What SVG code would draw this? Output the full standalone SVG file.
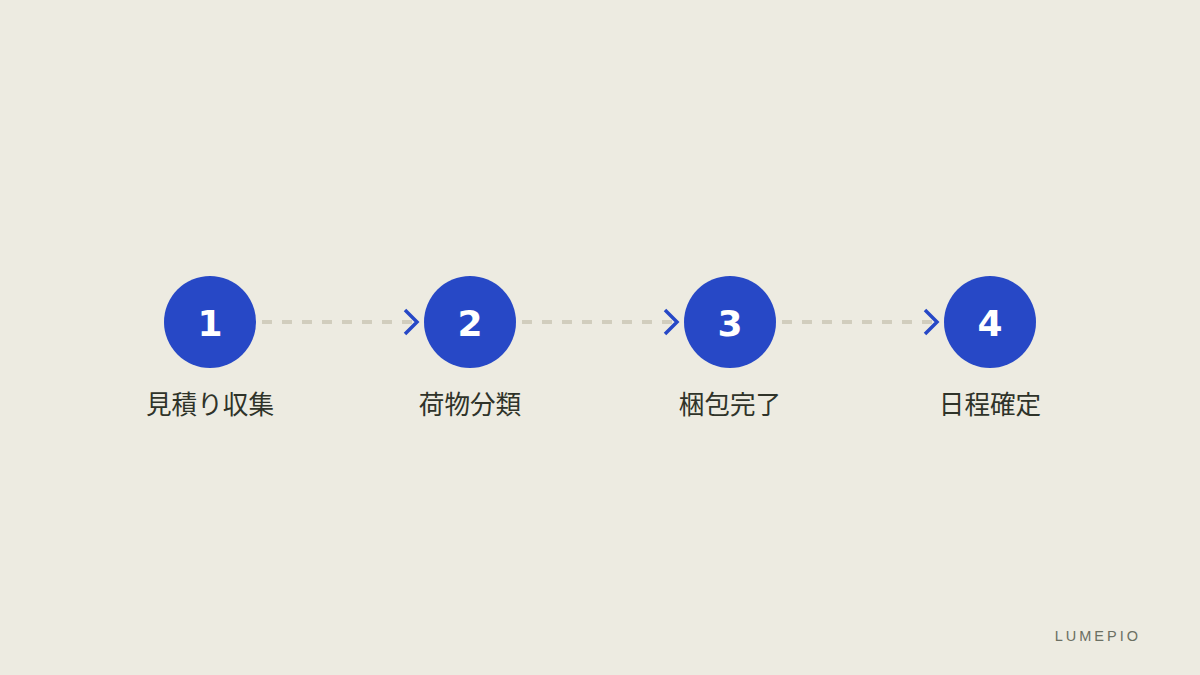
<svg xmlns="http://www.w3.org/2000/svg" width="1200" height="675" viewBox="0 0 1200 675">
<style>
.node circle{fill:#2748c6}
.num{font-family:"DejaVu Sans","Liberation Sans",sans-serif;font-weight:bold;font-size:36px;fill:#ffffff;text-anchor:middle}
.lbl{font-family:"Noto Sans CJK JP","Noto Sans",sans-serif;font-size:25.6px;fill:#2f3329;text-anchor:middle}
.dash{stroke:#d1cdbd;stroke-width:4;stroke-dasharray:10 10;fill:none}
.chev{stroke:#2748c6;stroke-width:3.5;fill:none;stroke-linecap:butt}
</style>
<rect width="1200" height="675" fill="#edebe1"/>
<g id="connectors">
<line class="dash" x1="262" y1="322" x2="412" y2="322"/>
<polyline class="chev" points="405,310 417,322 405,334"/>
<line class="dash" x1="522" y1="322" x2="672" y2="322"/>
<polyline class="chev" points="665,310 677,322 665,334"/>
<line class="dash" x1="782" y1="322" x2="932" y2="322"/>
<polyline class="chev" points="925,310 937,322 925,334"/>
</g>
<g id="node1" class="node"><circle cx="210" cy="322" r="46"/><text class="num" x="210" y="336">1</text><text class="lbl" x="210" y="414">見積り収集</text></g>
<g id="node2" class="node"><circle cx="470" cy="322" r="46"/><text class="num" x="470" y="336">2</text><text class="lbl" x="470" y="414">荷物分類</text></g>
<g id="node3" class="node"><circle cx="730" cy="322" r="46"/><text class="num" x="730" y="336">3</text><text class="lbl" x="730" y="414">梱包完了</text></g>
<g id="node4" class="node"><circle cx="990" cy="322" r="46"/><text class="num" x="990" y="336">4</text><text class="lbl" x="990" y="414">日程確定</text></g>
<text x="1141" y="641" text-anchor="end" font-family="'Liberation Sans',sans-serif" font-size="14.5" letter-spacing="3" fill="#6b6f63">LUMEPIO</text>
</svg>
